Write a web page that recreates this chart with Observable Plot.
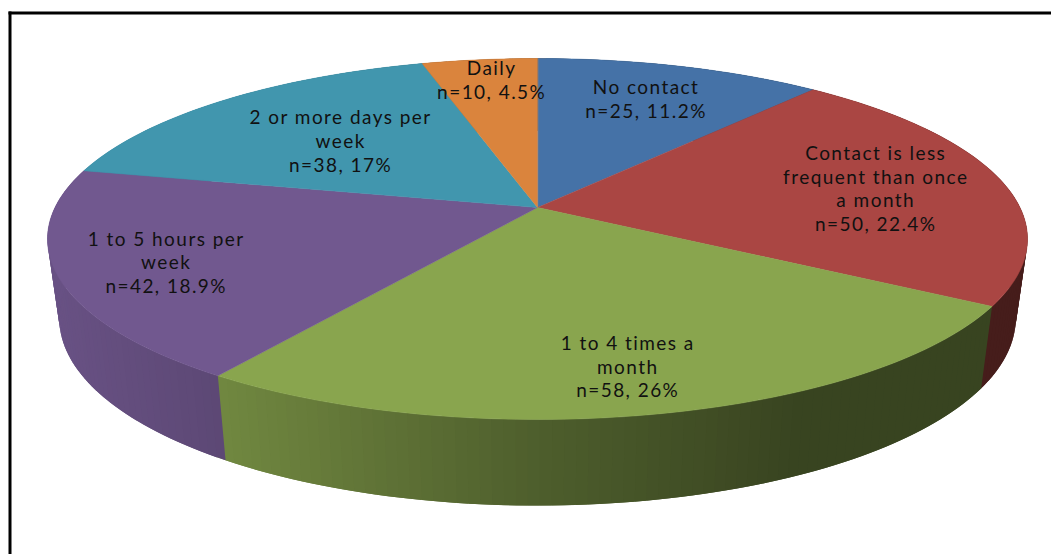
<!DOCTYPE html>
<html>
<head>
<meta charset="utf-8">
<script src="https://cdn.jsdelivr.net/npm/d3@7"></script>
<script src="https://cdn.jsdelivr.net/npm/@observablehq/plot@0.6"></script>
<style>
  html, body { margin: 0; padding: 0; background: #fff; overflow: hidden; }
  svg { display: block; }
</style>
</head>
<body>
<div id="chart"></div>
<script>
// Contact frequency, clockwise from twelve o'clock
const categories = [
  "No contact",
  "Contact is less\nfrequent than once\na month",
  "1 to 4 times a\nmonth",
  "1 to 5 hours per\nweek",
  "2 or more days per\nweek",
  "Daily"
];
const counts = [25, 50, 58, 42, 38, 10];
const percents = [11.2, 22.4, 26, 18.9, 17, 4.5];
const sliceColors = ["#4572a7", "#aa4643", "#89a54e", "#71588f", "#4196ae", "#da843d"];

// Label placement along each slice: distance from the hub and turn off the mid-angle
const labelReach = [0.743, 0.724, 0.80, 0.787, 0.60, 0.8455];
const labelTurn = [-0.3, 0.3, 0.6, -0.5, 0, 0.7];

// Tilted-disc projection: unit circle seen in perspective, with a thick rim
const perspective = 0.1745;
const rimDepth = 0.447;
const rimShrink = 0.976;
const stepDegrees = 1.2;

const rad = Math.PI / 180;
const project = (deg, radius = 1) => {
  const u = radius * Math.sin(deg * rad);
  const v = -radius * Math.cos(deg * rad);
  const s = 1 / (1 - perspective * v);
  return {x: u * s, y: v * s};
};
// Lower edge of the rim: pulled in slightly, dropped by the rim depth
const projectLower = (deg) => {
  const v = -Math.cos(deg * rad);
  const s = 1 / (1 - perspective * v);
  const top = project(deg);
  return {x: top.x * rimShrink, y: top.y + rimDepth * Math.sqrt(s)};
};

// Rim gets darker towards the right of the disc
const rimShade = d3.scaleLinear().domain([-1, -0.6, 0, 0.55, 1]).range([0.92, 0.8, 0.57, 0.41, 0.41]).clamp(true);
const shaded = (hex, factor) => {
  const c = d3.rgb(hex);
  return d3.rgb(c.r * factor, c.g * factor, c.b * factor).formatHex();
};

// Slice boundaries in degrees
let turned = 0;
const slices = percents.map((p, i) => {
  const start = turned * 3.6;
  turned += p;
  return {i, start, end: turned * 3.6, mid: (start + turned * 3.6) / 2};
});

const anglesBetween = (a, b) => {
  const n = Math.max(1, Math.ceil((b - a) / stepDegrees));
  return d3.range(n + 1).map((k) => a + ((b - a) * k) / n);
};

// Rim: narrow quads painted clockwise, each running a step under the next so no seam shows
const rimRows = [];
for (const slice of slices) {
  const angles = anglesBetween(slice.start, slice.end);
  d3.pairs(angles).forEach(([a, b], k) => {
    const key = `${slice.i}-${k}`;
    const fill = shaded(sliceColors[slice.i], rimShade((project(a).x + project(b).x) / 2));
    const reach = b + stepDegrees;
    [project(a), project(reach), projectLower(reach), projectLower(a)]
      .forEach((p) => rimRows.push({...p, key, fill}));
  });
}

// Top face: hub plus outer arc for each slice
const topRows = slices.flatMap((slice) => [
  {...project(0, 0), key: slice.i, fill: sliceColors[slice.i]},
  ...anglesBetween(slice.start, slice.end).map((a) => ({...project(a), key: slice.i, fill: sliceColors[slice.i]}))
]);

const labelRows = slices.map((slice) => ({
  ...project(slice.mid + labelTurn[slice.i], labelReach[slice.i]),
  text: `${categories[slice.i]}\nn=${counts[slice.i]}, ${percents[slice.i]}%`
}));

const polygon = (rows, options) =>
  Plot.line(rows, {x: "x", y: "y", z: "key", fill: "fill", curve: "linear-closed", ...options});

const chart = Plot.plot({
  width: 1051,
  height: 554,
  marginTop: 12.5,
  marginLeft: 9.5,
  marginRight: 0,
  marginBottom: 0,
  x: {domain: [-1, 1], range: [54.5, 1019.5], axis: null},
  y: {domain: [-1, 1], range: [32, 382], axis: null},
  color: {type: "identity"},
  style: {background: "#fff", fontFamily: "Lato, sans-serif", letterSpacing: "1.45px"},
  marks: [
    polygon(rimRows, {stroke: null}),
    polygon(topRows, {stroke: "fill", strokeWidth: 0.5}),
    Plot.text(labelRows, {
      x: "x",
      y: "y",
      text: "text",
      fontSize: 19,
      lineHeight: 1.24,
      fill: "#111",
      textAnchor: "middle"
    }),
    Plot.frame({anchor: "left", stroke: "#000", strokeWidth: 3, strokeLinecap: "square"}),
    Plot.frame({anchor: "top", stroke: "#000", strokeWidth: 3, strokeLinecap: "square"})
  ]
});
document.getElementById("chart").append(chart);
</script>
</body>
</html>
